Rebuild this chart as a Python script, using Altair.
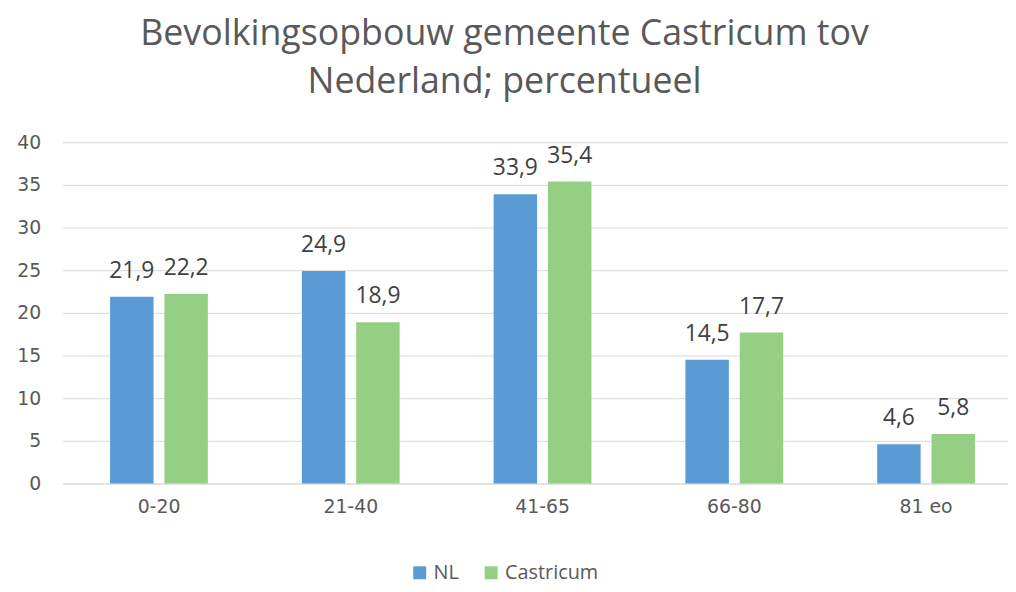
import altair as alt
import pandas as pd

categories = ["0-20", "21-40", "41-65", "66-80", "81 eo"]
series_names = ["NL", "Castricum"]
nl_values = [21.9, 24.9, 33.9, 14.5, 4.6]
castricum_values = [22.2, 18.9, 35.4, 17.7, 5.8]
colors = ["#5B9BD5", "#95CF83"]

rows = []
for c, a, b in zip(categories, nl_values, castricum_values):
    rows.append({"cat": c, "serie": "NL", "val": a, "lbl": f"{a:.1f}".replace(".", ",")})
    rows.append({"cat": c, "serie": "Castricum", "val": b, "lbl": f"{b:.1f}".replace(".", ",")})
df = pd.DataFrame(rows)

font = "Open Sans"
axis_font = "DejaVu Sans"

x = alt.X("cat:N", sort=categories, title=None,
          scale=alt.Scale(paddingInner=0.49, paddingOuter=0.21, align=0.59),
          axis=alt.Axis(labelAngle=0, labelFontSize=19, labelColor="#595959",
                        labelFont=axis_font, ticks=False, domain=True, domainColor="#d9d9d9",
                        labelPadding=14))
xo = alt.XOffset("serie:N", sort=series_names, scale=alt.Scale(paddingInner=0.2))
y = alt.Y("val:Q", title=None,
          scale=alt.Scale(domain=[0, 40]),
          axis=alt.Axis(values=list(range(0, 41, 5)), labelFontSize=19, labelColor="#595959",
                        labelFont=axis_font, ticks=False, domain=False, gridColor="#d9d9d9",
                        labelPadding=22))

bars = alt.Chart(df).mark_bar().encode(
    x=x, xOffset=xo, y=y,
    color=alt.Color("serie:N", sort=series_names,
                    scale=alt.Scale(domain=series_names, range=colors),
                    legend=alt.Legend(title=None, orient="none", direction="horizontal",
                                      legendX=350, legendY=424, symbolType="square",
                                      symbolSize=170, labelFontSize=20, labelColor="#595959",
                                      labelFont=font, columnPadding=22, symbolStrokeWidth=0)),
)
labels = alt.Chart(df).mark_text(dy=-26, baseline="middle", fontSize=23, color="#404040",
                                 font=font).encode(
    x=x, xOffset=xo, y=y, text="lbl:N"
)

chart = (bars + labels).properties(
    width=953, height=344,
    title=alt.TitleParams(["Bevolkingsopbouw gemeente Castricum tov", "Nederland; percentueel"],
                          fontSize=36, font=font, fontWeight="normal", color="#595959",
                          anchor="middle", lineHeight=48, offset=33, dx=-31),
    autosize=alt.AutoSizeParams(type="none"),
    padding={"left": 55, "top": 133, "right": 0, "bottom": 99},
).configure_view(stroke=None)

chart.save("out.html", embed_options={"renderer": "svg", "actions": False})
